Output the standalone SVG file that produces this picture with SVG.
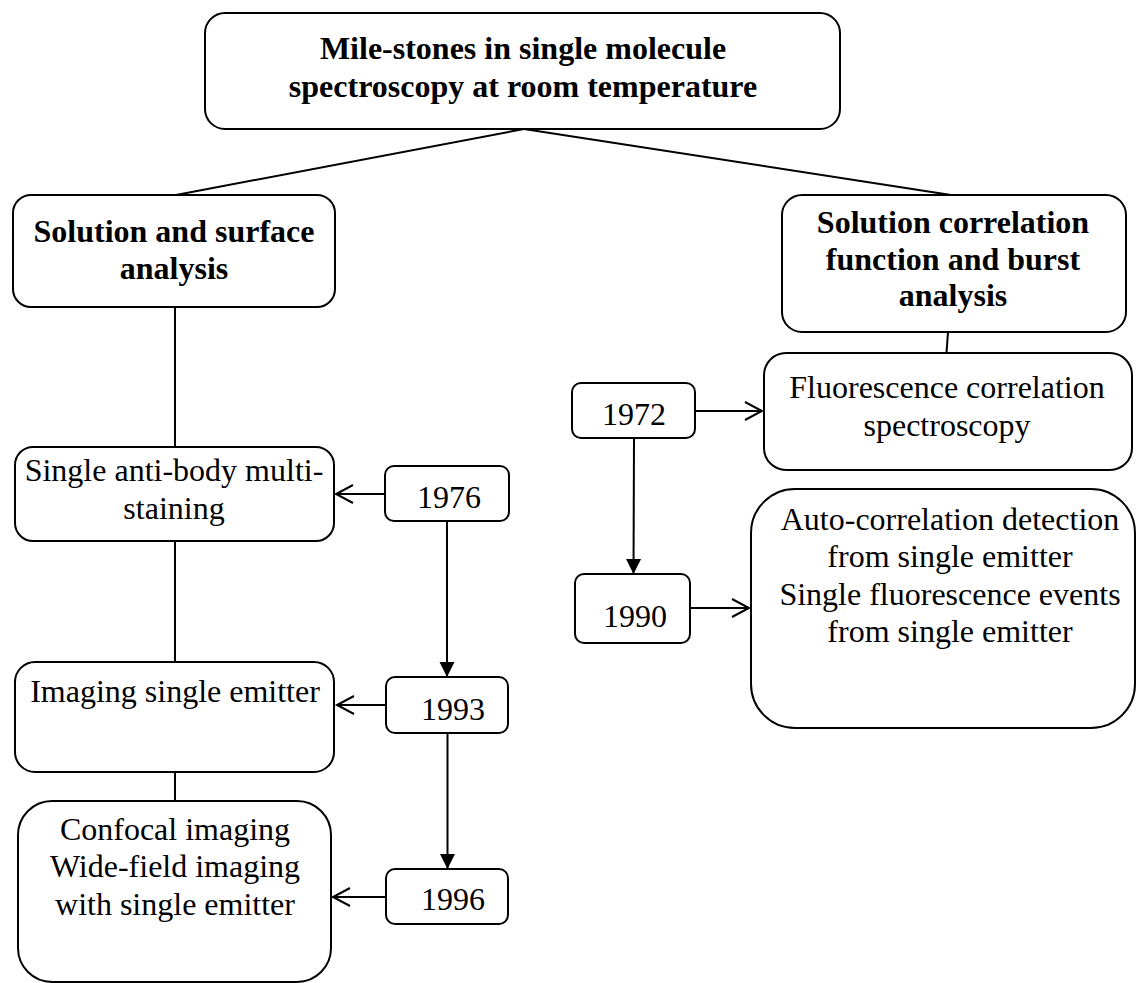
<svg xmlns="http://www.w3.org/2000/svg" width="1137" height="983" viewBox="0 0 1137 983">
<style>
.box{fill:#fff;stroke:#000;stroke-width:2}
.t{font-family:'Liberation Serif','Times New Roman',serif;font-size:32px;fill:#000;text-anchor:middle}
.b{font-weight:bold}
.c{fill:none;stroke:#000;stroke-width:2}
</style>
<defs>
<marker id="open" markerUnits="userSpaceOnUse" markerWidth="24" markerHeight="24" viewBox="-20 -12 24 24" refX="0" refY="0" orient="auto" overflow="visible">
<path d="M-17,-9 L0,0 L-17,9" fill="none" stroke="#000" stroke-width="2"/>
</marker>
<marker id="fill" markerUnits="userSpaceOnUse" markerWidth="24" markerHeight="24" viewBox="-20 -12 24 24" refX="0" refY="0" orient="auto" overflow="visible">
<path d="M-15,-7.5 L0,0 L-15,7.5 Z" fill="#000"/>
</marker>
</defs>
<rect width="1137" height="983" fill="#fff"/>
<g id="connectors">
<path class="c" d="M524,129 L176,195"/>
<path class="c" d="M524,129 L951,195"/>
<path class="c" d="M175,307 L175,447"/>
<path class="c" d="M175,541 L175,662"/>
<path class="c" d="M175,772 L175,801"/>
<path class="c" d="M948,332 L946.5,353"/>
<path class="c" d="M385,494 L336,494" marker-end="url(#open)"/>
<path class="c" d="M386,705 L337,705" marker-end="url(#open)"/>
<path class="c" d="M386,897 L333,897" marker-end="url(#open)"/>
<path class="c" d="M695,411 L762,411" marker-end="url(#open)"/>
<path class="c" d="M690,608 L749,608" marker-end="url(#open)"/>
<path class="c" d="M447,521 L447,677" marker-end="url(#fill)"/>
<path class="c" d="M447.5,733 L447.5,869" marker-end="url(#fill)"/>
<path class="c" d="M634,438 L633.5,574" marker-end="url(#fill)"/>
</g>
<g id="n-title">
<rect class="box" x="205" y="13" width="635" height="116" rx="20"/>
<text class="t b" x="523" y="59">Mile-stones in single molecule</text>
<text class="t b" x="523" y="97">spectroscopy at room temperature</text>
</g>
<g id="n-surface">
<rect class="box" x="13" y="195" width="322" height="112" rx="18"/>
<text class="t b" x="174" y="242">Solution and surface</text>
<text class="t b" x="174" y="279">analysis</text>
</g>
<g id="n-corr">
<rect class="box" x="782" y="195" width="344" height="137" rx="20"/>
<text class="t b" x="953" y="233">Solution correlation</text>
<text class="t b" x="953" y="270">function and burst</text>
<text class="t b" x="953" y="306">analysis</text>
</g>
<g id="n-antibody">
<rect class="box" x="15" y="447" width="319" height="94" rx="18"/>
<text class="t" x="174" y="481">Single anti-body multi-</text>
<text class="t" x="174" y="519">staining</text>
</g>
<g id="n-imaging">
<rect class="box" x="15" y="662" width="319" height="110" rx="20"/>
<text class="t" x="175" y="702">Imaging single emitter</text>
</g>
<g id="n-confocal">
<rect class="box" x="18" y="801" width="313" height="181" rx="34"/>
<text class="t" x="175" y="840">Confocal imaging</text>
<text class="t" x="175" y="877">Wide-field imaging</text>
<text class="t" x="175" y="915">with single emitter</text>
</g>
<g id="n-1976">
<rect class="box" x="385" y="466" width="124" height="55" rx="9"/>
<text class="t" x="449" y="508">1976</text>
</g>
<g id="n-1993">
<rect class="box" x="386" y="677" width="122" height="56" rx="9"/>
<text class="t" x="453" y="720">1993</text>
</g>
<g id="n-1996">
<rect class="box" x="386" y="869" width="122" height="55" rx="9"/>
<text class="t" x="453" y="910">1996</text>
</g>
<g id="n-1972">
<rect class="box" x="572" y="383" width="123" height="55" rx="9"/>
<text class="t" x="634" y="425">1972</text>
</g>
<g id="n-1990">
<rect class="box" x="575" y="574" width="115" height="69" rx="9"/>
<text class="t" x="635" y="627">1990</text>
</g>
<g id="n-fcs">
<rect class="box" x="764" y="353" width="368" height="117" rx="22"/>
<text class="t" x="947" y="398">Fluorescence correlation</text>
<text class="t" x="947" y="436">spectroscopy</text>
</g>
<g id="n-auto">
<rect class="box" x="751" y="489" width="384" height="239" rx="44"/>
<text class="t" x="950" y="530">Auto-correlation detection</text>
<text class="t" x="950" y="567">from single emitter</text>
<text class="t" x="950" y="605">Single fluorescence events</text>
<text class="t" x="950" y="642">from single emitter</text>
</g>
</svg>
